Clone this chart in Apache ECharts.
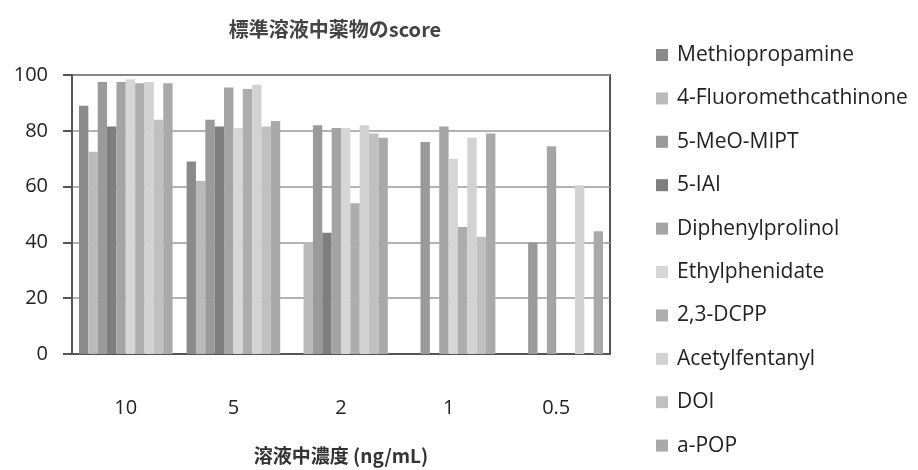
<!DOCTYPE html>
<html>
<head>
<meta charset="utf-8">
<script src="https://cdn.jsdelivr.net/npm/echarts@6/dist/echarts.min.js"></script>
<style>
  html, body { margin: 0; padding: 0; background: #fff; }
  #chart { width: 918px; height: 470px; }
</style>
</head>
<body>
<div id="chart"></div>
<script>
// Concentrations (ng/mL) along the category axis
const categories = ['10', '5', '2', '1', '0.5'];

// Score of each compound at each concentration (null = not detected)
const methiopropamine   = [89,   69,   null, null, null];
const fluoromethcathinone = [72.5, 62,   40,   null, null];
const meoMipt           = [97.5, 84,   82,   76,   40];
const iai               = [81.5, 81.5, 43.5, null, null];
const diphenylprolinol  = [97.5, 95.5, 81,   81.5, 74.5];
const ethylphenidate    = [98.5, 81,   81,   70,   null];
const dcpp              = [97,   95,   54,   45.5, null];
const acetylfentanyl    = [97.5, 96.5, 82,   77.5, 60.5];
const doi               = [84,   81.5, 79,   42,   null];
const aPop              = [97,   83.5, 77.5, 79,   44];

// Y axis ticks
const yTicks = [0, 20, 40, 60, 80, 100];

const seriesDefs = [
  { name: 'Methiopropamine',       data: methiopropamine,     color: '#8a8a8a' },
  { name: '4-Fluoromethcathinone', data: fluoromethcathinone, color: '#bababa' },
  { name: '5-MeO-MIPT',            data: meoMipt,             color: '#9a9a9a' },
  { name: '5-IAI',                 data: iai,                 color: '#7e7e7e' },
  { name: 'Diphenylprolinol',      data: diphenylprolinol,    color: '#a4a4a4' },
  { name: 'Ethylphenidate',        data: ethylphenidate,      color: '#d6d6d6' },
  { name: '2,3-DCPP',              data: dcpp,                color: '#adadad' },
  { name: 'Acetylfentanyl',        data: acetylfentanyl,      color: '#d2d2d2' },
  { name: 'DOI',                   data: doi,                 color: '#c0c0c0' },
  { name: 'a-POP',                 data: aPop,                color: '#a9a9a9' }
];

const latin = "'Open Sans', 'Noto Sans CJK JP', sans-serif";
const cjk = "'Noto Sans CJK JP', 'Open Sans', sans-serif";

const chart = echarts.init(document.getElementById('chart'), null, { renderer: 'canvas' });

chart.setOption({
  animation: false,
  backgroundColor: '#ffffff',
  title: {
    text: '標準溶液中薬物のscore',
    left: 330,
    textAlign: 'center',
    top: 14,
    textStyle: { fontFamily: cjk, fontSize: 20, fontWeight: 'bold', color: '#444' }
  },
  legend: {
    orient: 'vertical',
    left: 651,
    top: 39,
    icon: 'rect',
    itemWidth: 12,
    itemHeight: 12,
    itemGap: 21.4,
    textStyle: { fontFamily: latin, fontSize: 21, lineHeight: 22, color: '#222', padding: [0, 0, 0, 4] },
    data: seriesDefs.map(s => s.name)
  },
  grid: {
    left: 72, right: 308, top: 75, bottom: 102,
    show: true,
    borderColor: '#555',
    borderWidth: 2,
    containLabel: false
  },
  xAxis: {
    type: 'category',
    data: categories,
    axisLine: { show: true, lineStyle: { color: '#555', width: 2 } },
    axisTick: { show: false },
    axisLabel: { fontFamily: latin, fontSize: 20, color: '#222', margin: 44 },
    name: '溶液中濃度 (ng/mL)',
    nameLocation: 'middle',
    nameGap: 92,
    nameTextStyle: { fontFamily: cjk, fontSize: 19, fontWeight: 'bold', color: '#333' }
  },
  yAxis: {
    type: 'value',
    min: yTicks[0],
    max: yTicks[yTicks.length - 1],
    interval: yTicks[1] - yTicks[0],
    axisLine: { show: true, lineStyle: { color: '#555', width: 2 } },
    axisTick: { show: true, inside: false, length: 9, lineStyle: { color: '#555', width: 2 } },
    axisLabel: { fontFamily: latin, fontSize: 20, color: '#222', margin: 24 },
    splitLine: { show: true, lineStyle: { color: '#9a9a9a', width: 1.5 } }
  },
  series: seriesDefs.map(s => ({
    name: s.name,
    type: 'bar',
    data: s.data,
    barGap: '0%',
    barCategoryGap: '13%',
    itemStyle: { color: s.color }
  }))
});
</script>
</body>
</html>
